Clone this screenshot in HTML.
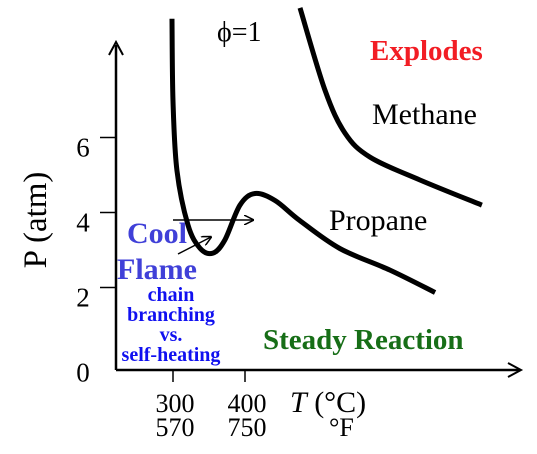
<!DOCTYPE html>
<html><head><meta charset="utf-8"><style>
body{margin:0;background:#fff}
svg{display:block}
.s{font-family:"Liberation Serif",serif}
</style></head><body>
<svg id="c" width="537" height="454" class="s">
<defs><marker id="ah" markerWidth="10" markerHeight="10" refX="9" refY="5" orient="auto" markerUnits="userSpaceOnUse"><path d="M0,0 L10,5 L0,10" fill="none" stroke="#000" stroke-width="1.5"/></marker></defs>
<g id="axes"></g>
<g id="curves"></g>
<text x="217" y="41" font-size="28">ϕ=1</text>
<text x="370" y="60" font-size="29" font-weight="bold" fill="#f21d24">Explodes</text>
<text x="372" y="124" font-size="30">Methane</text>
<text x="329" y="230" font-size="30">Propane</text>
<text x="127" y="243" font-size="30" font-weight="bold" fill="#4040d8">Cool</text>
<text x="117" y="279" font-size="30" font-weight="bold" fill="#4040d8">Flame</text>
<g font-size="20" font-weight="bold" fill="#1010f0" text-anchor="middle">
<text x="171" y="301">chain</text><text x="171" y="321">branching</text><text x="171" y="341">vs.</text><text x="171" y="361">self-heating</text></g>
<text x="263" y="349" font-size="29" font-weight="bold" fill="#176e17">Steady Reaction</text>
<text transform="translate(46,220) rotate(-90)" text-anchor="middle" font-size="33">P (atm)</text>
<text x="290" y="412" font-size="30"><tspan font-style="italic">T</tspan> (°C)</text>
<text x="329" y="436" font-size="26">°F</text>
<line x1="173" y1="220" x2="253" y2="220" stroke="#000" stroke-width="1.5" marker-end="url(#ah)"/>
<line x1="178" y1="254" x2="211" y2="237" stroke="#000" stroke-width="1.5" marker-end="url(#ah)"/>
</svg>
<script>
const yTicks=[0,2,4,6];
const xTicksC=[300,400];
const xTicksF=[570,750];
const propaneT=[298.6,300,305.5,320.8,337.5,355.5,372,393,414,442,476,532,601,664];
const propaneP=[9.3,7.1,5.25,3.8,3.18,3.05,3.4,4.33,4.64,4.45,3.92,3.17,2.6,2.0];
const methaneT=[476.4,511,538.9,573.6,643,729];
const methaneP=[9.59,7.4,6.25,5.61,5.0,4.33];
const X=t=>173+(t-300)*0.72, Y=p=>367.5-p*37.5;
const NS="http://www.w3.org/2000/svg";
function mk(tag,attrs,parent){const e=document.createElementNS(NS,tag);for(const k in attrs)e.setAttribute(k,attrs[k]);parent.appendChild(e);return e;}
const ax=document.getElementById('axes');
let e=mk('path',{d:'M116,370 V45 M116,370 H520',stroke:'#000','stroke-width':2.5,fill:'none'},ax);


e=mk('path',{d:'M109,55 L116,42 L123,55 M508,363 L521,370 L508,377',stroke:'#000','stroke-width':2,fill:'none'},ax);


yTicks.forEach(v=>{
 if(v>0){const l=mk('line',{x1:100,x2:116,y1:Y(v)-5,y2:Y(v)-5,stroke:'#000','stroke-width':1.5},ax);
 
 }
 const t=mk('text',{x:83,y:Y(v)+14,'font-size':27,'text-anchor':'middle'},ax);t.textContent=v;
 
 
});
xTicksC.forEach((v,i)=>{
 const l=mk('line',{x1:X(v),x2:X(v),y1:370,y2:382,stroke:'#000','stroke-width':1.5},ax);
 
 
 let t=mk('text',{x:X(v)+2,y:412,'font-size':26,'text-anchor':'middle'},ax);t.textContent=v;
 
 
 t=mk('text',{x:X(v)+2,y:436,'font-size':26,'text-anchor':'middle'},ax);t.textContent=xTicksF[i];
 
 
});
function smooth(T,P){const p=T.map((t,i)=>[X(t),Y(P[i])]);let d='M'+p[0][0]+','+p[0][1];
 for(let i=0;i<p.length-1;i++){const a=p[i-1]||p[i],b=p[i],c=p[i+1],n=p[i+2]||c;
 d+=` C${b[0]+(c[0]-a[0])/6},${b[1]+(c[1]-a[1])/6} ${c[0]-(n[0]-b[0])/6},${c[1]-(n[1]-b[1])/6} ${c[0]},${c[1]}`;}return d;}
const cg=document.getElementById('curves');
e=mk('path',{d:smooth(propaneT,propaneP),stroke:'#000','stroke-width':5,fill:'none'},cg);


e=mk('path',{d:smooth(methaneT,methaneP),stroke:'#000','stroke-width':5,fill:'none'},cg);


</script>
</body></html>
